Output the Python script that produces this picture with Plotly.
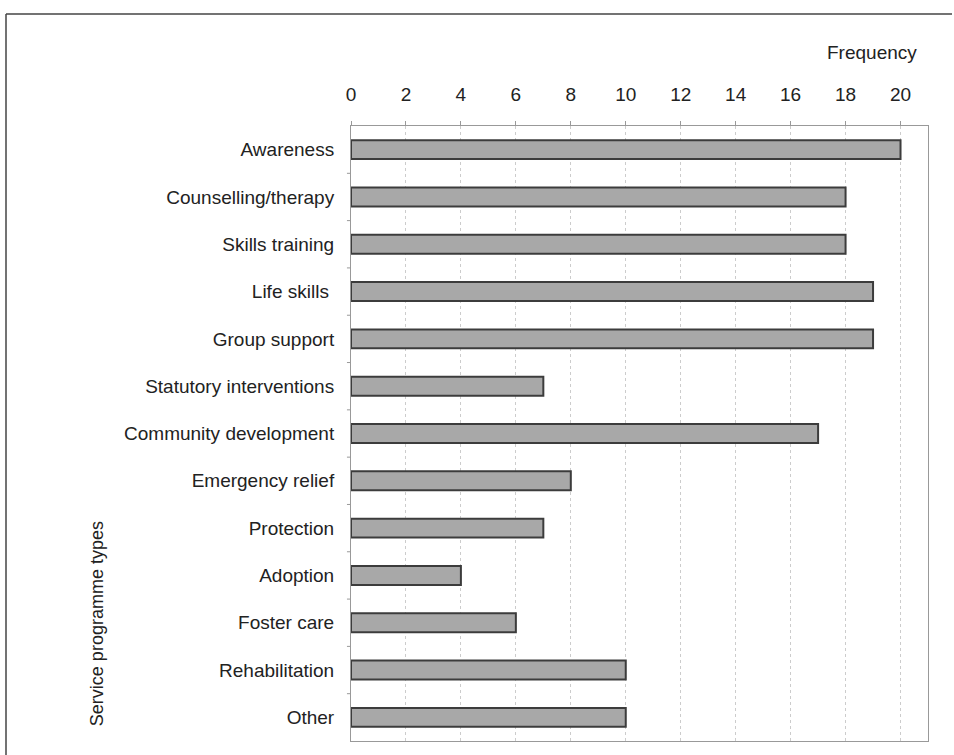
import plotly.graph_objects as go

categories = [
    "Awareness", "Counselling/therapy", "Skills training", "Life skills ",
    "Group support", "Statutory interventions", "Community development",
    "Emergency relief", "Protection", "Adoption", "Foster care",
    "Rehabilitation", "Other",
]
frequency = [20, 18, 18, 19, 19, 7, 17, 8, 7, 4, 6, 10, 10]
x_ticks = list(range(0, 21, 2))

FONT = "Liberation Sans, Arial, Helvetica, sans-serif"

fig = go.Figure(
    go.Bar(
        x=frequency,
        y=categories,
        orientation="h",
        width=0.4,
        marker=dict(color="#a8a8a8", line=dict(color="#3c3c3c", width=2)),
        hoverinfo="x+y",
    )
)

fig.update_layout(
    width=954,
    height=755,
    margin=dict(l=351, r=26, t=126, b=14),
    paper_bgcolor="white",
    plot_bgcolor="white",
    showlegend=False,
    font=dict(family=FONT, size=19, color="#222"),
    xaxis=dict(
        side="top",
        range=[0, 21],
        tickvals=x_ticks,
        ticktext=[str(v) for v in x_ticks],
        ticks="outside",
        ticklen=4,
        tickcolor="#999",
        ticklabelstandoff=12,
        showgrid=True,
        gridcolor="#cccccc",
        griddash="dot",
        gridwidth=1,
        showline=True,
        linecolor="#999",
        mirror=True,
        zeroline=False,
        tickfont=dict(size=19, color="#222"),
    ),
    yaxis=dict(
        categoryorder="array",
        categoryarray=categories[::-1],
        range=[-0.5, len(categories) - 0.5],
        ticks="",
        showline=True,
        linecolor="#999",
        mirror=True,
        showgrid=False,
        ticklabelstandoff=12,
        tickfont=dict(size=19, color="#222"),
    ),
)

# small tick marks between categories on the left edge
for i in range(len(categories) - 1):
    fig.add_shape(
        type="line", xref="paper", yref="y",
        x0=-0.007, x1=0, y0=i + 0.5, y1=i + 0.5,
        line=dict(color="#999", width=1),
    )

# axis titles
fig.add_annotation(
    text="Frequency", xref="paper", yref="paper",
    x=0.985, y=1.0, yshift=74, xanchor="right", yanchor="middle",
    showarrow=False, font=dict(size=19, color="#222"),
)
fig.add_annotation(
    text="Service programme types", xref="paper", yref="paper",
    x=0, xshift=-254, y=0.19, textangle=-90,
    xanchor="center", yanchor="middle",
    showarrow=False, font=dict(size=18, color="#222"),
)

# outer frame: top and left edges
px_w, px_h = 577, 615
frame_left = -345 / px_w
frame_right = 1 + 24 / px_w
frame_top = 1 + 112 / px_h
fig.add_shape(
    type="line", xref="paper", yref="paper",
    x0=frame_left, x1=frame_right, y0=frame_top, y1=frame_top,
    line=dict(color="#444", width=1.5),
)
fig.add_shape(
    type="line", xref="paper", yref="paper",
    x0=frame_left, x1=frame_left, y0=frame_top, y1=-0.05,
    line=dict(color="#444", width=1.5),
)

fig.write_html("out.html")
